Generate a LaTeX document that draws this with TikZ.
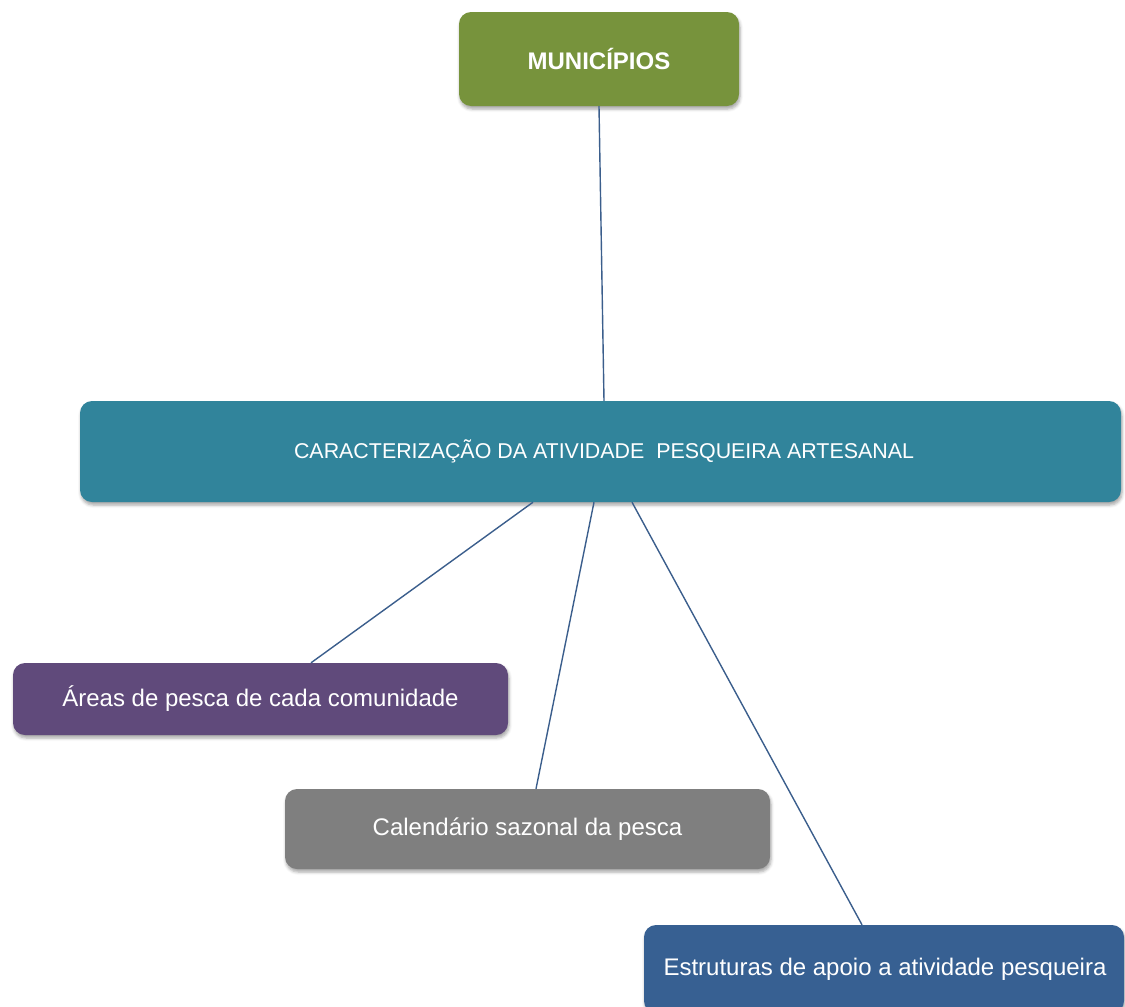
\documentclass[tikz,border=0pt]{standalone}
\usepackage{fontspec}
\setmainfont{Liberation Sans}
\usetikzlibrary{shadows.blur}
\definecolor{mungreen}{HTML}{77933C}
\definecolor{carteal}{HTML}{31849B}
\definecolor{arepurple}{HTML}{604A7B}
\definecolor{calgray}{HTML}{7F7F7F}
\definecolor{estblue}{HTML}{376092}
\definecolor{linkblue}{HTML}{3B5E8C}
\tikzset{
  boxbase/.style={rectangle, rounded corners=12pt, text=white, inner sep=0pt,
    blur shadow={shadow xshift=1pt, shadow yshift=-3pt, shadow blur radius=3pt, shadow opacity=35}},
  link/.style={draw=linkblue, line width=1.4pt}
}
\begin{document}
\begin{tikzpicture}[x=1pt,y=-1pt]
\useasboundingbox (0,0) rectangle (1125,1007);
\clip (0,0) rectangle (1125,1007);
\node[boxbase, fill=mungreen, minimum width=280pt, minimum height=94pt, font=\fontsize{24}{28}\selectfont\bfseries] (mun) at (599,59) {MUNICÍPIOS};
\node[boxbase, fill=carteal, minimum width=1041pt, minimum height=101pt, font=\fontsize{21.4}{25}\selectfont] (car) at (600.5,451.5) {\hspace*{7pt}CARACTERIZAÇÃO DA ATIVIDADE\ \ PESQUEIRA ARTESANAL};
\node[boxbase, fill=arepurple, minimum width=495pt, minimum height=72pt, font=\fontsize{24}{28}\selectfont] (are) at (260.5,699) {Áreas de pesca de cada comunidade};
\node[boxbase, fill=calgray, minimum width=485pt, minimum height=80pt, font=\fontsize{24}{28}\selectfont] (cal) at (527.5,829) {Calendário sazonal da pesca};
\node[boxbase, fill=estblue, minimum width=480pt, minimum height=88pt, font=\fontsize{24}{28}\selectfont] (est) at (884,969) {\hspace*{2pt}Estruturas de apoio a atividade pesqueira};
\draw[link] (mun.south) -- ([xshift=3.5pt]car.north);
\draw[link] ([xshift=-67.5pt]car.south) -- ([xshift=50.5pt]are.north);
\draw[link] ([xshift=-6.5pt]car.south) -- ([xshift=8.5pt]cal.north);
\draw[link] ([xshift=31.5pt]car.south) -- ([xshift=-22pt]est.north);
\end{tikzpicture}
\end{document}
